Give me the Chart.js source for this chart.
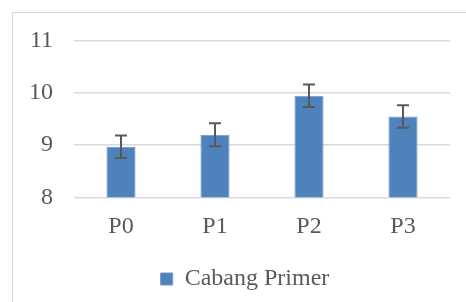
<!DOCTYPE html>
<html>
<head>
<meta charset="utf-8">
<script src="https://cdn.jsdelivr.net/npm/chart.js@4"></script>
<style>
  html, body { margin: 0; padding: 0; background: #fff; overflow: hidden; width: 466px; height: 302px; }
  #frame { position: absolute; left: 12px; top: 12px; width: 469px; height: 300px; border: 1px solid #d9d9d9; }
  #chart { display: block; }
</style>
</head>
<body>
<div id="frame"><canvas id="chart" width="469" height="300"></canvas></div>
<script>
const categories = ["P0", "P1", "P2", "P3"];
const seriesName = "Cabang Primer";
const seriesValues = [8.97, 9.2, 9.95, 9.55];
const errorValues = [0.215, 0.22, 0.215, 0.215];
const yTicks = [8, 9, 10, 11];

const textColor = "#595959";
const fontFamily = "'Liberation Serif', 'Times New Roman', serif";

// draws the +/- error whiskers from errorValues through the y scale
const errorBars = {
  id: "errorBars",
  afterDatasetsDraw(chart) {
    const meta = chart.getDatasetMeta(0);
    const yScale = chart.scales.y;
    const ctx = chart.ctx;
    ctx.save();
    ctx.strokeStyle = "#595959";
    ctx.lineWidth = 2;
    meta.data.forEach((bar, i) => {
      const v = seriesValues[i], e = errorValues[i];
      const yTop = yScale.getPixelForValue(v + e);
      const yBot = yScale.getPixelForValue(v - e);
      const x = bar.x, cap = 6;
      ctx.beginPath();
      ctx.moveTo(x, yTop); ctx.lineTo(x, yBot);
      ctx.moveTo(x - cap, yTop); ctx.lineTo(x + cap, yTop);
      ctx.moveTo(x - cap, yBot); ctx.lineTo(x + cap, yBot);
      ctx.stroke();
    });
    ctx.restore();
  }
};

new Chart(document.getElementById("chart").getContext("2d"), {
  type: "bar",
  data: {
    labels: categories,
    datasets: [{
      label: seriesName,
      data: seriesValues,
      backgroundColor: "#4f81bd",
      borderColor: "#6f98cb",
      borderWidth: 1,
      barPercentage: 0.31,
      categoryPercentage: 1,
    }]
  },
  options: {
    responsive: false,
    animation: false,
    layout: { padding: { top: 28, right: 32, bottom: 12, left: 27 } },
    plugins: {
      tooltip: { enabled: false },
      legend: {
        position: "bottom",
        labels: {
          color: textColor,
          font: { family: fontFamily, size: 24 },
          boxWidth: 12,
          boxHeight: 12,
          padding: 10,
        }
      }
    },
    scales: {
      x: {
        grid: { display: false },
        border: { display: false },
        ticks: { color: textColor, font: { family: fontFamily, size: 24 }, padding: 7 },
        afterFit(scale) { scale.height = 59.7; }
      },
      y: {
        min: 8,
        max: 11,
        afterBuildTicks(scale) { scale.ticks = yTicks.map(v => ({ value: v })); },
        grid: { color: "#d9d9d9", lineWidth: 1.5, drawTicks: false },
        border: { display: false },
        // mirrored + negative padding keeps labels outside the plot without clipping
        ticks: { color: textColor, font: { family: fontFamily, size: 24 }, mirror: true, crossAlign: "far", padding: -45 },
        afterFit(scale) { scale.width = 34; }
      }
    }
  },
  plugins: [errorBars]
});
</script>
</body>
</html>
